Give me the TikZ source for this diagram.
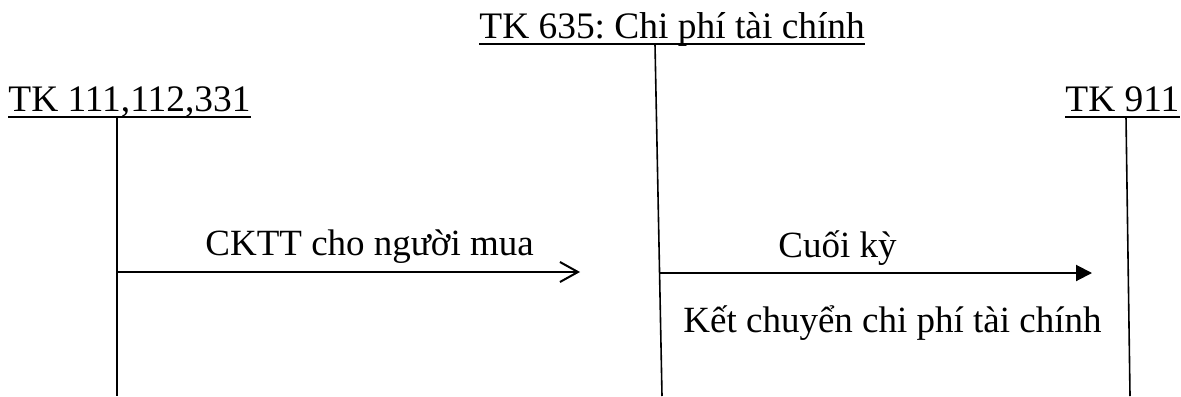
\documentclass[tikz,border=0pt]{standalone}
\usepackage{fontspec}
\setmainfont{Liberation Serif}
\usetikzlibrary{arrows.meta}
\frenchspacing

\begin{document}
\begin{tikzpicture}[x=0.5pt,y=-0.5pt,
  acct/.style={inner sep=0, text depth=3pt, anchor=base west, font=\fontsize{18.7}{22}\selectfont},
  lbl/.style={inner sep=0, anchor=base west, font=\fontsize{18.5}{22}\selectfont},
  uline/.style={black, line width=1pt},
  tline/.style={black, line width=0.8pt}]
\useasboundingbox (0,0) rectangle (1181,396);
% account headings
\node[acct] (tk111) at (8,111) {TK 111,112,331};
\node[acct] (tk635) at (479,38) {TK 635: Chi phí tài chính};
\node[acct] (tk911) at (1065,111) {TK 911};
\draw[uline] (tk111.south west) -- (tk111.south east);
\draw[uline] (tk635.south west) -- (tk635.south east);
\draw[uline] (tk911.south west) -- (tk911.south east);
% T-account stems
\coordinate (t111) at (117,0);
\coordinate (t635) at (655,0);
\coordinate (t911) at (1126,0);
\coordinate (s111) at (117,396);
\coordinate (s635) at (662,396);
\coordinate (s911) at (1130,396);
\draw[tline] (t111 |- tk111.south) -- (s111);
\draw[tline] (t635 |- tk635.south) -- (s635);
\draw[tline] (t911 |- tk911.south) -- (s911);
% postings
\coordinate (a1s) at (117,272);
\coordinate (a1e) at (580,272);
\coordinate (a2s) at (660,273);
\coordinate (a2e) at (1092,273);
\draw[line width=1pt, -{Straight Barb[length=9pt,width=10pt]}] (a1s) -- (a1e);
\draw[line width=1pt, -{Triangle[length=8pt,width=8pt]}] (a2s) -- (a2e);
\node[lbl] (ckt) at (205,255) {CKTT cho người mua};
\node[lbl] (cuoiky) at (778,257) {Cuối kỳ};
\node[lbl] (ketchuyen) at (683,332) {Kết chuyển chi phí tài chính};
\end{tikzpicture}
\end{document}
